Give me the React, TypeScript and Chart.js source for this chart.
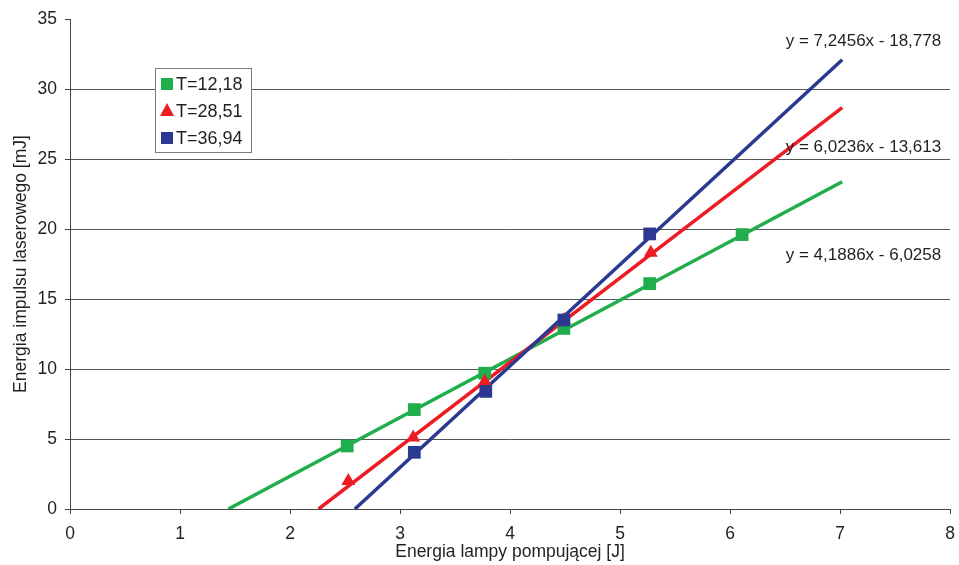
import React, { useEffect, useRef } from "react";
import { Chart, registerables } from "chart.js";

Chart.register(...registerables);

const seriesNames = ["T=12,18", "T=28,51", "T=36,94"];
const seriesColors = ["#1fae4b", "#ed1c24", "#2b3990"];
const seriesStyles = ["rect", "triangle", "rect"];

const greenX = [2.52, 3.13, 3.77, 4.49, 5.27, 6.11];
const greenY = [4.5, 7.1, 9.7, 12.9, 16.1, 19.6];
const redX = [2.53, 3.12, 3.77, 4.49, 5.28];
const redY = [2.0, 5.1, 9.1, 13.5, 18.3];
const blueX = [3.13, 3.78, 4.49, 5.27];
const blueY = [4.05, 8.4, 13.5, 19.65];

// trendline end points
const greenTrendX = [1.44, 7.02];
const greenTrendY = [0, 23.38];
const redTrendX = [2.26, 7.02];
const redTrendY = [0, 28.67];
const blueTrendX = [2.59, 7.02];
const blueTrendY = [0, 32.09];

const equations = ["y = 4,1886x - 6,0258", "y = 6,0236x - 13,613", "y = 7,2456x - 18,778"];
const eqX = [7.92, 7.92, 7.92];
const eqY = [18.1, 25.8, 33.4];

const xTicks = [0, 1, 2, 3, 4, 5, 6, 7, 8];
const yTicks = [0, 5, 10, 15, 20, 25, 30, 35];

const FONT = "Arial, 'Liberation Sans', sans-serif";
const TEXT = "#231f20";

const pts = (xs: number[], ys: number[]) => xs.map((x, i) => ({ x, y: ys[i] }));

const overlayPlugin = {
  id: "overlay",
  afterDatasetsDraw(chart: any) {
    const ctx = chart.ctx;
    const xs = chart.scales.x;
    const ys = chart.scales.y;
    ctx.save();
    ctx.font = `17px ${FONT}`;
    ctx.fillStyle = TEXT;
    ctx.textAlign = "right";
    ctx.textBaseline = "middle";
    equations.forEach((t, i) => {
      ctx.fillText(t, xs.getPixelForValue(eqX[i]), ys.getPixelForValue(eqY[i]));
    });
    // legend box
    const a = chart.chartArea;
    const bx = a.left + 85;
    const by = a.top + 49;
    const bw = 96;
    const bh = 84;
    ctx.fillStyle = "#ffffff";
    ctx.fillRect(bx, by, bw, bh);
    ctx.strokeStyle = "#7a7a7a";
    ctx.lineWidth = 1;
    ctx.strokeRect(bx + 0.5, by + 0.5, bw, bh);
    ctx.textAlign = "left";
    ctx.font = `18px ${FONT}`;
    seriesNames.forEach((n, i) => {
      const cy = by + 16 + i * 27;
      const cx = bx + 12;
      ctx.fillStyle = seriesColors[i];
      if (seriesStyles[i] === "rect") {
        ctx.fillRect(cx - 6, cy - 6, 12, 12);
      } else {
        ctx.beginPath();
        ctx.moveTo(cx, cy - 8);
        ctx.lineTo(cx + 7, cy + 5);
        ctx.lineTo(cx - 7, cy + 5);
        ctx.closePath();
        ctx.fill();
      }
      ctx.fillStyle = TEXT;
      ctx.fillText(n, bx + 21, cy + 1);
    });
    ctx.restore();
  },
};

export default function App() {
  const ref = useRef<HTMLCanvasElement>(null);
  useEffect(() => {
    document.body.style.margin = "0";
    const trend = (xs: number[], ys: number[], c: string, order: number) => ({
      type: "line" as const,
      data: pts(xs, ys),
      borderColor: c,
      borderWidth: 3.5,
      pointRadius: 0,
      showLine: true,
      order,
    });
    const marks = (xs: number[], ys: number[], i: number, order: number) => ({
      type: "scatter" as const,
      data: pts(xs, ys),
      backgroundColor: seriesColors[i],
      borderColor: seriesColors[i],
      borderWidth: 0,
      pointStyle: seriesStyles[i],
      pointRadius: seriesStyles[i] === "rect" ? 9 : 8,
      showLine: false,
      order,
    });
    const chart = new Chart(ref.current as HTMLCanvasElement, {
      type: "scatter",
      data: {
        datasets: [
          marks(blueX, blueY, 2, 1),
          marks(redX, redY, 1, 2),
          marks(greenX, greenY, 0, 3),
          trend(blueTrendX, blueTrendY, seriesColors[2], 4),
          trend(redTrendX, redTrendY, seriesColors[1], 5),
          trend(greenTrendX, greenTrendY, seriesColors[0], 6),
        ] as any,
      },
      options: {
        animation: false,
        responsive: false,
        layout: { padding: { top: 19, right: 2, left: 0, bottom: 0 } },
        plugins: { legend: { display: false }, tooltip: { enabled: false } },
        scales: {
          x: {
            type: "linear",
            min: 0,
            max: 8,
            afterBuildTicks: (s: any) => {
              s.ticks = xTicks.map((v) => ({ value: v }));
            },
            afterFit: (s: any) => {
              s.height = 56;
              s.paddingRight = 0;
              s.paddingLeft = 0;
            },
            ticks: { font: { size: 17.5, family: FONT }, color: TEXT, padding: 10 },
            grid: { drawOnChartArea: false, tickLength: 5, tickColor: "#444", color: "#444" },
            border: { display: true, color: "#444", width: 1 },
            title: {
              display: true,
              text: "Energia lampy pompującej [J]",
              font: { size: 17.5, family: FONT },
              color: TEXT,
              padding: { top: 0, bottom: 2 },
            },
          },
          y: {
            type: "linear",
            min: 0,
            max: 35,
            afterBuildTicks: (s: any) => {
              s.ticks = yTicks.map((v) => ({ value: v }));
            },
            afterFit: (s: any) => {
              s.width = 70;
              s.paddingTop = 0;
              s.paddingBottom = 0;
            },
            ticks: { font: { size: 17.5, family: FONT }, color: TEXT, padding: 8 },
            grid: {
              tickLength: 5,
              tickColor: "#444",
              lineWidth: 1,
              color: (c: any) => (c.tick && (c.tick.value === 35 || c.tick.value === 0) ? "rgba(0,0,0,0)" : "#555"),
            },
            border: { display: true, color: "#444", width: 1 },
            title: {
              display: true,
              text: "Energia impulsu laserowego [mJ]",
              font: { size: 17.5, family: FONT },
              color: TEXT,
              padding: { top: 11, bottom: 0 },
            },
          },
        },
      },
      plugins: [overlayPlugin],
    } as any);
    return () => chart.destroy();
  }, []);
  return <canvas ref={ref} width={959} height={565} style={{ display: "block" }} />;
}
